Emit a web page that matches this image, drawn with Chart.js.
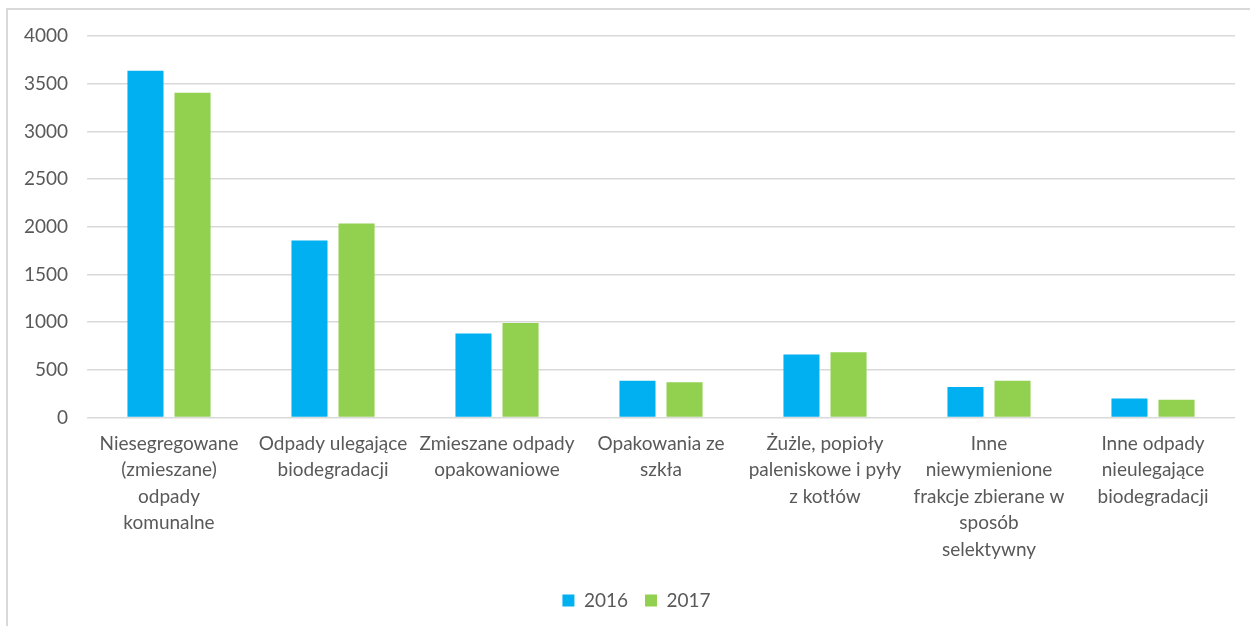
<!DOCTYPE html>
<html>
<head>
<meta charset="utf-8">
<script src="https://cdn.jsdelivr.net/npm/chart.js@4"></script>
<style>
    html, body { margin: 0; padding: 0; background: #fff; }
    #wrap { position: relative; width: 1250px; height: 626px; }
    #frame { position: absolute; left: 6px; top: 8px; width: 1300px; height: 700px;
             border-left: 2px solid #d9d9d9; border-top: 2px solid #d9d9d9; }
    canvas { position: absolute; left: 0; top: 0; }
</style>
</head>
<body>
<div id="wrap">
    <div id="frame"></div>
    <canvas id="chart" width="1250" height="626"></canvas>
</div>
<script>
const categories = [
    ["Niesegregowane", "(zmieszane)", "odpady", "komunalne"],
    ["Odpady ulegające", "biodegradacji"],
    ["Zmieszane odpady", "opakowaniowe"],
    ["Opakowania ze", "szkła"],
    ["Żużle, popioły", "paleniskowe i pyły", "z kotłów"],
    ["Inne", "niewymienione", "frakcje zbierane w", "sposób", "selektywny"],
    ["Inne odpady", "nieulegające", "biodegradacji"]
];
const values2016 = [3635, 1855, 880, 385, 660, 320, 200];
const values2017 = [3405, 2035, 990, 370, 685, 385, 185];
const seriesNames = ["2016", "2017"];
const yTicks = [0, 500, 1000, 1500, 2000, 2500, 3000, 3500, 4000];

const textColor = "#595959";
const fontFamily = "Lato, 'Liberation Sans', sans-serif";

// nudge the legend a little to the right, as in the original
const legendShift = {
    id: "legendShift",
    afterLayout(chart) {
        chart.legend.left += 14;
        chart.legend.right += 14;
    }
};

new Chart(document.getElementById("chart"), {
    type: "bar",
    data: {
        labels: categories,
        datasets: [{
            label: seriesNames[0],
            data: values2016,
            backgroundColor: "#00B0F0",
            categoryPercentage: 0.574,
            barPercentage: 0.766
        }, {
            label: seriesNames[1],
            data: values2017,
            backgroundColor: "#92D050",
            categoryPercentage: 0.574,
            barPercentage: 0.766
        }]
    },
    plugins: [legendShift],
    options: {
        responsive: false,
        animation: false,
        layout: { padding: { left: 10, right: 15, top: 36, bottom: 6 } },
        plugins: {
            tooltip: { enabled: false },
            legend: {
                position: "bottom",
                labels: {
                    boxWidth: 12,
                    boxHeight: 12,
                    padding: 17,
                    color: textColor,
                    font: { family: fontFamily, size: 19 }
                }
            }
        },
        scales: {
            x: {
                grid: { display: false, drawTicks: false },
                border: { display: false },
                ticks: {
                    color: textColor,
                    padding: 13,
                    maxRotation: 0,
                    autoSkip: false,
                    font: { family: fontFamily, size: 19, lineHeight: "26.5px" }
                },
                afterFit: (scale) => { scale.height = 156.5; }
            },
            y: {
                min: 0,
                max: 4000,
                afterBuildTicks: (scale) => { scale.ticks = yTicks.map(v => ({ value: v })); },
                grid: { color: "#d9d9d9", lineWidth: 1.5, drawTicks: false },
                border: { display: false },
                ticks: {
                    color: textColor,
                    padding: 19,
                    font: { family: fontFamily, size: 19 },
                    callback: (v) => String(v)
                },
                afterFit: (scale) => { scale.width = 77; }
            }
        }
    }
});
</script>
</body>
</html>
